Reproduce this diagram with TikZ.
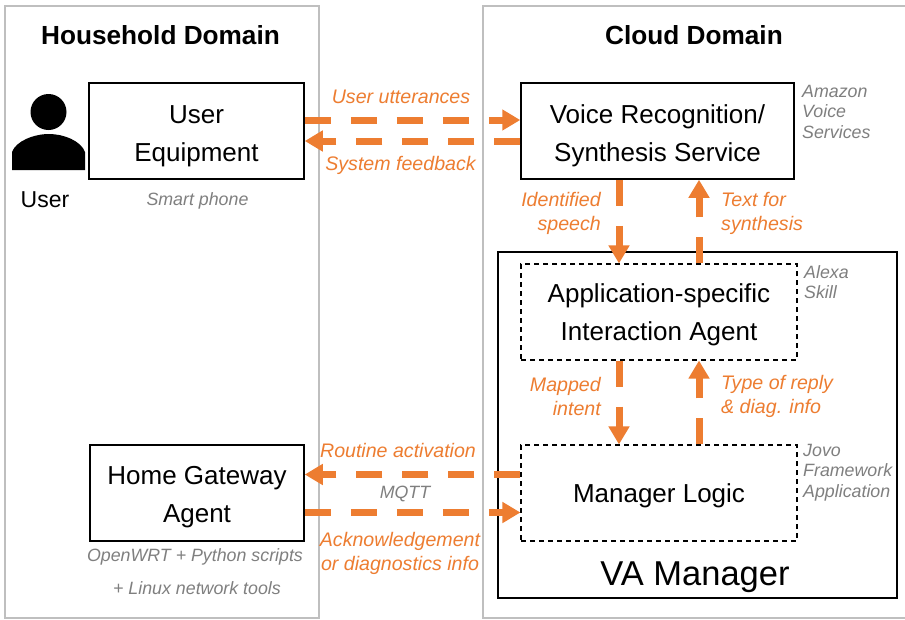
\documentclass[tikz,border=0pt]{standalone}
\usepackage{fontspec}
\setmainfont{Liberation Sans}
\usetikzlibrary{arrows.meta}
\definecolor{orangeline}{HTML}{ED7D31}
\definecolor{greytext}{HTML}{7F7F7F}
\definecolor{domainline}{HTML}{BFBFBF}
\newcommand{\lowerfix}[1]{\rule{0pt}{#1pt}}
\tikzset{
  domainbox/.style={draw=domainline,line width=2pt,fill=white,minimum width=#1,minimum height=612.5pt,inner sep=0pt,anchor=north west},
  mainbox/.style={draw=black,line width=1.5pt,fill=white,align=center,font=\fontsize{26}{38}\selectfont,minimum height=96pt,inner sep=0pt},
  dashbox/.style={draw=black,line width=1.1pt,dash pattern=on 5pt off 4pt,fill=white,align=center,font=\fontsize{26}{38}\selectfont,minimum height=96pt,inner sep=0pt},
  flow/.style={draw=orangeline,line width=7pt,dash pattern=on 26pt off 20pt,-{Triangle[length=18pt,width=20pt]}},
  flowlabel/.style={text=orangeline,font=\fontsize{19.6}{24}\selectfont\itshape,inner sep=0pt},
  note/.style={text=greytext,font=\fontsize{17.8}{20.5}\selectfont\itshape,inner sep=0pt},
  title/.style={font=\fontsize{26.2}{30}\selectfont\bfseries,inner sep=0pt},
  plain/.style={font=\fontsize{23}{28}\selectfont,inner sep=0pt}
}
\begin{document}
\begin{tikzpicture}[x=1pt,y=-1pt]
\useasboundingbox (0,0) rectangle (905,619);
\fill[white] (0,0) rectangle (905,619);
\node[domainbox=314pt] (household) at (3.8,4.8) {};
\node[domainbox=440pt] (cloud) at (482.3,4.8) {};
\node[title] (t1) at (160.5,35) {Household Domain};
\node[title] (t2) at (694,35) {Cloud Domain};
% user icon
\fill[black] (48.5,112) circle (18);
\fill[black] (12,170) -- (12,152) .. controls (16,141) and (34,134) .. (49,134) .. controls (64,134) and (81,141) .. (85,152) -- (85,170) -- cycle;
\node[plain] (userlbl) at (45,200) {User};
\node[mainbox,minimum width=215pt] (ue) at (196.5,131) {\lowerfix{28}User\\Equipment};
\node[mainbox,minimum width=273pt] (voice) at (657.5,131) {\lowerfix{28}Voice Recognition/\\Synthesis Service};
\node[note] (phone) at (197.5,201) {Smart phone};
\node[note,align=left,anchor=north west] (avs) at (802,85) {Amazon\\Voice\\Services};
\node[draw=black,line width=1.5pt,fill=white,minimum width=399pt,minimum height=346pt,inner sep=0pt] (va) at (697.5,425) {};
\node[dashbox,minimum width=276pt] (app) at (659,312) {\lowerfix{24}Application-specific\\Interaction Agent};
\node[dashbox,minimum width=276pt] (mgr) at (659,493) {\lowerfix{24}Manager Logic};
\node[mainbox,minimum width=214pt] (home) at (197,493) {\lowerfix{26}Home Gateway\\Agent};
\node[font=\fontsize{34.5}{40}\selectfont,inner sep=0pt] (valbl) at (695,577.5) {VA Manager};
\node[note,align=left,anchor=north west] (skill) at (804,265) {Alexa\\Skill};
\node[note,align=left,anchor=north west] (jovo) at (803,444) {Jovo\\Framework\\Application};
\node[note] (mqtt) at (405,494) {MQTT};
\node[note] (wrt) at (195,556.5) {OpenWRT + Python scripts};
\node[note] (tools) at (197,588.5) {+ Linux network tools};
% connectors
\draw[flow] ([yshift=11pt]ue.east) -- ([yshift=11pt]voice.west);
\draw[flow] ([yshift=-10pt]voice.west) -- ([yshift=-10pt]ue.east);
\draw[flow] ([xshift=-38.5pt]voice.south) -- ([xshift=-40pt]app.north);
\draw[flow] ([xshift=40pt]app.north) -- ([xshift=41.5pt]voice.south);
\draw[flow] ([xshift=-40pt]app.south) -- ([xshift=-40pt]mgr.north);
\draw[flow] ([xshift=40pt]mgr.north) -- ([xshift=40pt]app.south);
\draw[flow] ([yshift=18.5pt]mgr.west) -- ([yshift=18.5pt]home.east);
\draw[flow] ([yshift=-19.5pt]home.east) -- ([yshift=-19.5pt]mgr.west);
% labels
\node[flowlabel] (l1) at (401,97) {User utterances};
\node[flowlabel] (l2) at (400.5,165) {System feedback};
\node[flowlabel,align=right,anchor=east] (l3) at (601,213) {Identified\\speech};
\node[flowlabel,align=left,anchor=west] (l4) at (721,213) {Text for\\synthesis};
\node[flowlabel,align=right,anchor=east] (l5) at (601,396) {Mapped\\intent};
\node[flowlabel,align=left,anchor=west] (l6) at (721,396) {Type of reply\\\& diag. info};
\node[flowlabel] (l7) at (398,450) {Routine activation};
\node[flowlabel,align=center] (l8) at (400,553) {Acknowledgement\\or diagnostics info};
\end{tikzpicture}
\end{document}
